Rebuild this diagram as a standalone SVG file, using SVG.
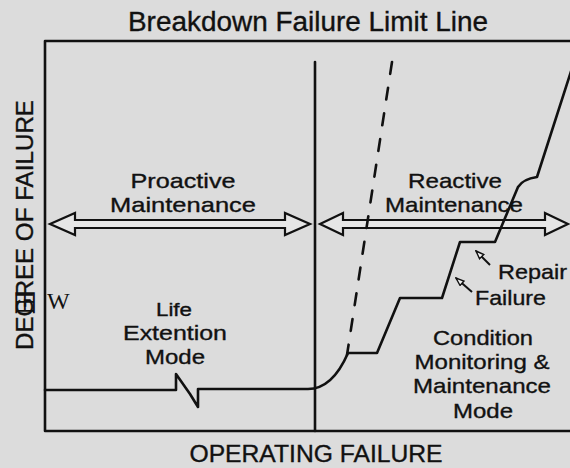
<svg xmlns="http://www.w3.org/2000/svg" width="570" height="468" viewBox="0 0 570 468">
  <defs>
    <style>
      .txt { font-family: "Liberation Sans", Arial, Helvetica, sans-serif; fill: #111; stroke: #111; stroke-width: 0.35; }
      .mid { text-anchor: middle; }
      .line { fill: none; stroke: #111; stroke-width: 2.6; stroke-linejoin: round; stroke-linecap: round; }
      .dbl { fill: #e6e6e6; stroke: #111; stroke-width: 2.2; stroke-linejoin: miter; }
      .ptr { fill: none; stroke: #111; stroke-width: 2; marker-end: url(#openHead); }
    </style>
    <marker id="openHead" viewBox="0 0 10 8" refX="9" refY="4" markerWidth="5" markerHeight="4" orient="auto" markerUnits="strokeWidth">
      <path d="M1,1 L9,4 L1,7 Z" fill="#f2f2f2" stroke="#111" stroke-width="1.4"/>
    </marker>
  </defs>

  <!-- page background -->
  <rect x="0" y="0" width="570" height="468" fill="#dcdcdc"/>

  <!-- title -->
  <text class="txt mid" x="308" y="31" font-size="27" textLength="360" lengthAdjust="spacingAndGlyphs">Breakdown Failure Limit Line</text>

  <!-- axes frame -->
  <g id="frame">
    <path class="line" d="M570,41 H45 V431 H570"/>
    <text class="txt mid" font-size="23" transform="translate(33,225) rotate(-90)" textLength="250" lengthAdjust="spacingAndGlyphs">DEGREE OF FAILURE</text>
    <text class="txt mid" x="316" y="462" font-size="23" textLength="253" lengthAdjust="spacingAndGlyphs">OPERATING FAILURE</text>
    <text x="13" y="311" font-size="24" font-family="'Liberation Serif', 'Noto Sans CJK SC', serif" fill="#111">田</text>
    <text x="47" y="309" font-size="24" font-family="'Liberation Serif', serif" fill="#111">W</text>
  </g>

  <!-- divider between proactive and reactive zones -->
  <g id="divider">
    <line class="line" x1="315" y1="62" x2="315" y2="431"/>
  </g>

  <!-- proactive range -->
  <g id="proactive">
    <path class="dbl" d="M50,224 L75,213 L75,220 L285,220 L285,213 L310,224 L285,235 L285,228 L75,228 L75,235 Z"/>
    <text class="txt mid" x="183" y="188" font-size="21" textLength="105" lengthAdjust="spacingAndGlyphs">Proactive</text>
    <text class="txt mid" x="183" y="212" font-size="21" textLength="146" lengthAdjust="spacingAndGlyphs">Maintenance</text>
  </g>

  <!-- reactive range -->
  <g id="reactive">
    <path class="dbl" d="M320,224 L343,213 L343,220 L545,220 L545,213 L568,224 L545,235 L545,228 L343,228 L343,235 Z"/>
    <text class="txt mid" x="455" y="188" font-size="21" textLength="94" lengthAdjust="spacingAndGlyphs">Reactive</text>
    <text class="txt mid" x="454" y="212" font-size="21" textLength="138" lengthAdjust="spacingAndGlyphs">Maintenance</text>
  </g>

  <!-- life extension label -->
  <g id="life-extension">
    <text class="txt mid" x="174" y="316" font-size="18" textLength="36" lengthAdjust="spacingAndGlyphs">Life</text>
    <text class="txt mid" x="175" y="340" font-size="21" textLength="104" lengthAdjust="spacingAndGlyphs">Extention</text>
    <text class="txt mid" x="175" y="364" font-size="21" textLength="60" lengthAdjust="spacingAndGlyphs">Mode</text>
  </g>

  <!-- condition monitoring label -->
  <g id="condition-monitoring">
    <text class="txt mid" x="483" y="345" font-size="21" textLength="100" lengthAdjust="spacingAndGlyphs">Condition</text>
    <text class="txt mid" x="482" y="369" font-size="21" textLength="135" lengthAdjust="spacingAndGlyphs">Monitoring &amp;</text>
    <text class="txt mid" x="482" y="393" font-size="21" textLength="138" lengthAdjust="spacingAndGlyphs">Maintenance</text>
    <text class="txt mid" x="483" y="418" font-size="21" textLength="60" lengthAdjust="spacingAndGlyphs">Mode</text>
  </g>

  <!-- repair / failure callouts -->
  <g id="repair">
    <text class="txt" x="498" y="279" font-size="21" textLength="69" lengthAdjust="spacingAndGlyphs">Repair</text>
  </g>
  <g id="failure">
    <text class="txt" x="475" y="305" font-size="21" textLength="71" lengthAdjust="spacingAndGlyphs">Failure</text>
  </g>

  <!-- connectors: curves and pointers -->
  <g id="connectors">
    <line class="line" x1="392" y1="62" x2="347" y2="355" stroke-dasharray="12 14" stroke-linecap="butt"/>
    <path class="line" d="M45,390 H176 V374 L190,394 L198,407 V389 H308 C325,389 338,376 348,353 H377 L400,298 H442 L460,242 H495 L518,187 Q523,179 537,177 L574,62"/>
    <line class="ptr" x1="490" y1="265" x2="476" y2="251"/>
    <line class="ptr" x1="472" y1="292" x2="456" y2="278"/>
  </g>
</svg>
